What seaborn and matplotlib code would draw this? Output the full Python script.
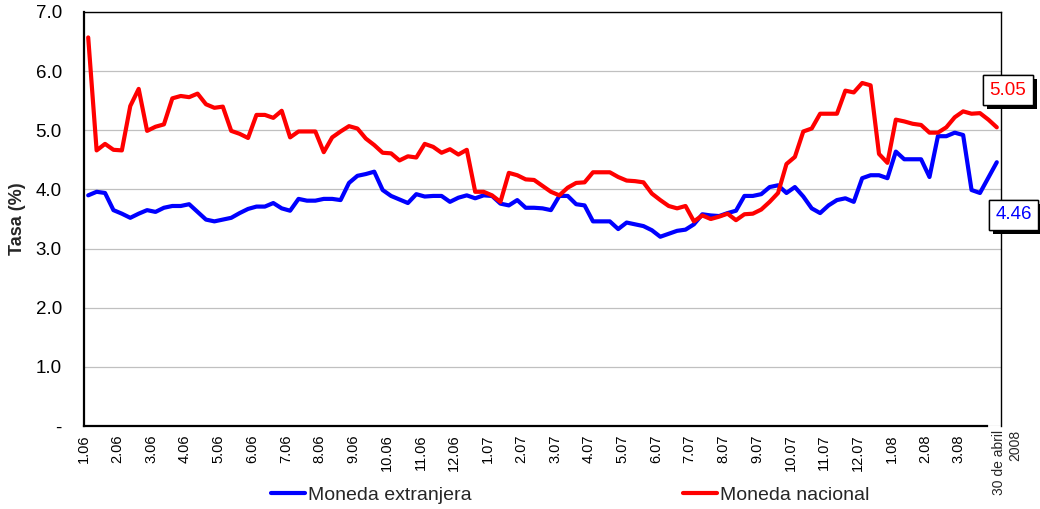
import numpy as np
import pandas as pd
import matplotlib
matplotlib.use("Agg")
import matplotlib.pyplot as plt
import matplotlib.patheffects as pe
import seaborn as sns

# ---- data (weekly observations, Jan 2006 - 30 Apr 2008) ----
moneda_nacional = [
    6.57, 4.66, 4.77, 4.67, 4.66, 5.41, 5.70, 4.99, 5.06, 5.10,
    5.54, 5.58, 5.56, 5.62, 5.44, 5.38, 5.40, 4.99, 4.94, 4.87,
    5.26, 5.26, 5.21, 5.33, 4.88, 4.98, 4.98, 4.98, 4.63, 4.88,
    4.98, 5.07, 5.03, 4.86, 4.75, 4.62, 4.61, 4.49, 4.56, 4.54,
    4.77, 4.72, 4.62, 4.68, 4.59, 4.67, 3.96, 3.96, 3.90, 3.79,
    4.28, 4.24, 4.17, 4.16, 4.06, 3.96, 3.90, 4.03, 4.11, 4.12,
    4.29, 4.29, 4.29, 4.21, 4.15, 4.14, 4.12, 3.93, 3.82, 3.72,
    3.68, 3.72, 3.46, 3.56, 3.50, 3.54, 3.59, 3.48, 3.58, 3.59,
    3.66, 3.79, 3.94, 4.43, 4.55, 4.98, 5.03, 5.28, 5.28, 5.28,
    5.67, 5.64, 5.80, 5.76, 4.60, 4.45, 5.18, 5.15, 5.11, 5.09,
    4.96, 4.96, 5.05, 5.22, 5.32, 5.28, 5.29, 5.18, 5.05,
]
moneda_extranjera = [
    3.90, 3.96, 3.94, 3.65, 3.59, 3.52, 3.59, 3.65, 3.62, 3.69,
    3.72, 3.72, 3.75, 3.62, 3.49, 3.46, 3.49, 3.52, 3.60, 3.67,
    3.71, 3.71, 3.77, 3.68, 3.64, 3.84, 3.81, 3.81, 3.84, 3.84,
    3.82, 4.11, 4.23, 4.26, 4.30, 3.99, 3.89, 3.83, 3.77, 3.92,
    3.88, 3.89, 3.89, 3.79, 3.86, 3.90, 3.85, 3.90, 3.89, 3.76,
    3.73, 3.82, 3.69, 3.69, 3.68, 3.65, 3.89, 3.89, 3.75, 3.73,
    3.46, 3.46, 3.46, 3.33, 3.44, 3.41, 3.38, 3.31, 3.20, 3.25,
    3.30, 3.32, 3.41, 3.58, 3.56, 3.55, 3.60, 3.64, 3.89, 3.89,
    3.92, 4.04, 4.07, 3.94, 4.04, 3.88, 3.68, 3.60, 3.73, 3.82,
    3.85, 3.79, 4.19, 4.24, 4.24, 4.19, 4.64, 4.51, 4.51, 4.51,
    4.21, 4.90, 4.90, 4.96, 4.92, 3.99, 3.94, 4.20, 4.46,
]
month_labels = [
    "1.06", "2.06", "3.06", "4.06", "5.06", "6.06", "7.06", "8.06", "9.06",
    "10.06", "11.06", "12.06", "1.07", "2.07", "3.07", "4.07", "5.07", "6.07",
    "7.07", "8.07", "9.07", "10.07", "11.07", "12.07", "1.08", "2.08", "3.08",
]
end_label = "30 de abril\n2008"
series_names = ["Moneda extranjera", "Moneda nacional"]
y_ticks = [0, 1, 2, 3, 4, 5, 6, 7]
y_tick_labels = ["-", "1.0", "2.0", "3.0", "4.0", "5.0", "6.0", "7.0"]

n = len(moneda_nacional)
week = np.arange(n)
df = pd.DataFrame({
    "semana": np.concatenate([week, week]),
    "tasa": np.concatenate([moneda_extranjera, moneda_nacional]),
    "serie": [series_names[0]] * n + [series_names[1]] * n,
})

sns.set_style("white")
plt.rcParams["font.family"] = ["Liberation Sans", "DejaVu Sans"]

fig = plt.figure(figsize=(10.40, 5.09), dpi=100)
ax = fig.add_axes([84 / 1040, 1 - 426 / 509, (1001 - 84) / 1040, (426 - 12) / 509])

palette = {series_names[0]: "#0000FF", series_names[1]: "#FF0000"}
sns.lineplot(data=df, x="semana", y="tasa", hue="serie", palette=palette,
             hue_order=series_names, linewidth=3.0, ax=ax, legend=True)

ax.set_xlim(-0.5, n - 0.5)
ax.set_ylim(0, 7)
ax.yaxis.grid(True, color="#C0C0C0", linewidth=0.9)
ax.xaxis.grid(False)
ax.set_axisbelow(True)

ax.set_yticks(y_ticks)
ax.set_yticklabels(y_tick_labels, fontsize=13.5)
tick_pos = np.arange(len(month_labels)) * 4 - 0.5
ax.set_xticks(tick_pos)
ax.set_xticklabels(month_labels, rotation=90, fontsize=10.5)
ax.tick_params(axis="x", direction="out", length=4, width=1, pad=2, colors="black")
ax.tick_params(axis="y", direction="out", length=5, width=1, pad=11, colors="black")
ax.set_xlabel("")
ax.set_ylabel("Tasa (%)", fontsize=13, fontweight="bold")
ax.yaxis.set_label_coords((26 - 84) / 917, 0.5)

# final date label at the right end of the axis
ax.annotate(end_label, xy=(n - 0.5, 0), xycoords="data", xytext=(4.5, -3),
            textcoords="offset points", rotation=90, ha="center", va="top",
            multialignment="right", fontsize=10, linespacing=1.25,
            annotation_clip=False)

for s in ["left", "bottom"]:
    ax.spines[s].set_color("black")
    ax.spines[s].set_linewidth(1.6)
for s in ["top", "right"]:
    ax.spines[s].set_color("black")
    ax.spines[s].set_linewidth(1.0)
    ax.spines[s].set_visible(True)
ax.spines["bottom"].set_bounds(-0.5, (987 - 84) / 917 * n - 0.5)

# end-value annotations with shadowed boxes
def boxed(xval, yval, txt, color):
    t = ax.text(xval, yval, txt, color=color, fontsize=13.5, ha="center", va="center",
                bbox=dict(boxstyle="square,pad=0.35", fc="white", ec="black", lw=1.0),
                clip_on=False, zorder=10)
    t.get_bbox_patch().set_path_effects([
        pe.withSimplePatchShadow(offset=(3, -3), shadow_rgbFace="black", alpha=1.0),
        pe.Normal()])
    return t

boxed(n + 0.3, moneda_nacional[-1] + 0.63, f"{moneda_nacional[-1]:.2f}", "#FF0000")
boxed(n + 1.0, moneda_extranjera[-1] - 0.89, f"{moneda_extranjera[-1]:.2f}", "#0000FF")

# legend at bottom
leg = ax.get_legend()
handles = leg.legend_handles if hasattr(leg, "legend_handles") else leg.legendHandles
leg.remove()
fig.legend(handles, series_names, loc="center", bbox_to_anchor=(570 / 1040, 1 - 495 / 509),
           ncol=2, frameon=False, fontsize=14, handlelength=1.75, handletextpad=0.15,
           columnspacing=10.9)

fig.savefig("out.png", dpi=100)
